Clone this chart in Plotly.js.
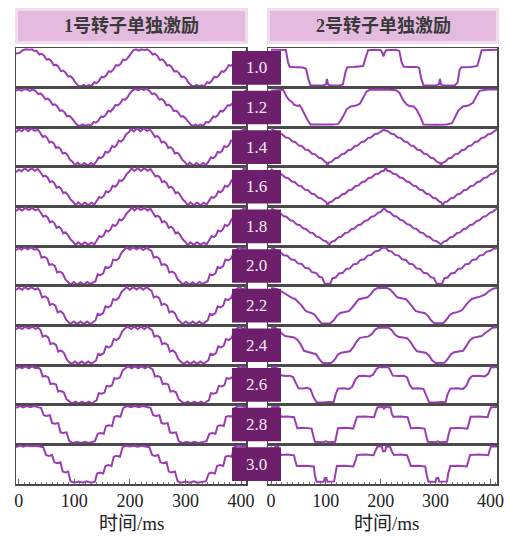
<!DOCTYPE html>
<html>
<head>
<meta charset="utf-8">
<script src="https://cdn.plot.ly/plotly-3.0.1.min.js"></script>
<style>
  html, body { margin: 0; padding: 0; background: #ffffff; }
  #chart { width: 509px; height: 536px; }
</style>
</head>
<body>
<div id="chart"></div>
<script>
// Speed ratios (one row each) and column headings
const ratioLabels = ['1.0', '1.2', '1.4', '1.6', '1.8', '2.0', '2.2', '2.4', '2.6', '2.8', '3.0'];
const panelTitles = ['1号转子单独激励', '2号转子单独激励'];
const xTickVals = [0, 100, 200, 300, 400];
const xAxisTitle = '时间/ms';

// Rotor 1 excitation waveforms: [time ms, normalised amplitude]
const r1_10 = [[-5,0.76],[2,0.82],[7,0.95],[13,1.0],[19,0.97],[24,1.0],[28,0.9],[32,0.93],[37,0.72],[41,0.76],[45,0.68],[50,0.44],[54,0.48],[58,0.38],[63,0.14],[67,0.17],[71,0.07],[76,-0.18],[80,-0.15],[84,-0.25],[89,-0.48],[93,-0.45],[97,-0.56],[102,-0.8],[107,-0.96],[112,-1.0],[117,-0.92],[121,-1.0],[126,-0.93],[131,-0.98],[136,-0.78],[140,-0.82],[144,-0.72],[149,-0.48],[153,-0.52],[157,-0.42],[162,-0.18],[166,-0.22],[170,-0.1],[175,0.14],[179,0.11],[183,0.2],[188,0.44],[192,0.41],[196,0.52],[201,0.76],[206,0.94],[211,1.0],[216,0.93],[221,1.0],[226,0.95],[231,1.0],[236,0.9],[241,0.72],[245,0.76],[249,0.66],[254,0.42],[258,0.46],[262,0.36],[267,0.12],[271,0.15],[275,0.05],[280,-0.2],[284,-0.17],[288,-0.27],[293,-0.5],[297,-0.47],[301,-0.58],[306,-0.82],[311,-0.96],[315,-1.0],[320,-0.92],[324,-1.0],[329,-0.94],[334,-0.99],[339,-0.78],[343,-0.82],[347,-0.72],[352,-0.48],[356,-0.52],[360,-0.42],[365,-0.18],[369,-0.22],[373,-0.1],[378,0.14],[382,0.11],[386,0.2],[391,0.44],[395,0.41],[399,0.52],[404,0.76],[410,0.92]];
const r1_12 = [[-5,0.9],[0,0.98],[5,0.9],[10,1.0],[15,0.97],[20,0.9],[25,0.97],[30,0.9],[35,0.72],[39,0.76],[43,0.66],[48,0.44],[52,0.48],[56,0.38],[61,0.14],[65,0.17],[69,0.07],[74,-0.18],[78,-0.15],[82,-0.25],[87,-0.48],[91,-0.45],[95,-0.56],[100,-0.78],[105,-0.94],[110,-1.0],[115,-0.92],[120,-1.0],[125,-0.93],[130,-0.98],[135,-0.78],[139,-0.82],[143,-0.72],[148,-0.48],[152,-0.52],[156,-0.42],[161,-0.18],[165,-0.22],[169,-0.1],[174,0.14],[178,0.11],[182,0.2],[187,0.44],[191,0.41],[195,0.52],[200,0.76],[205,0.92],[210,1.0],[215,0.92],[220,1.0],[225,0.94],[230,1.0],[235,0.9],[240,0.72],[244,0.76],[248,0.66],[253,0.42],[257,0.46],[261,0.36],[266,0.12],[270,0.15],[274,0.05],[279,-0.2],[283,-0.17],[287,-0.27],[292,-0.5],[296,-0.47],[300,-0.58],[305,-0.8],[310,-0.95],[314,-1.0],[318,-0.92],[322,-1.0],[327,-0.93],[332,-0.98],[337,-0.78],[341,-0.82],[345,-0.72],[350,-0.48],[354,-0.52],[358,-0.42],[363,-0.18],[367,-0.22],[371,-0.1],[376,0.12],[380,0.1],[384,0.2],[389,0.44],[393,0.41],[397,0.52],[402,0.76],[409,0.92]];
const r1_14 = [[-5,0.8],[0,0.95],[5,0.85],[11,1.0],[17,0.86],[23,1.0],[29,0.88],[34,0.95],[38,0.8],[43,0.55],[47,0.6],[51,0.5],[55,0.25],[59,0.3],[63,0.2],[67,-0.05],[71,0.0],[75,-0.1],[79,-0.35],[83,-0.3],[87,-0.4],[92,-0.68],[97,-0.8],[101,-0.98],[106,-0.84],[112,-1.0],[118,-0.86],[124,-1.0],[130,-0.86],[135,-0.96],[139,-0.8],[144,-0.55],[148,-0.6],[152,-0.5],[156,-0.25],[160,-0.3],[164,-0.2],[168,0.05],[172,0.0],[176,0.1],[180,0.35],[184,0.3],[188,0.4],[193,0.68],[198,0.8],[202,0.98],[207,0.85],[213,1.0],[219,0.86],[225,1.0],[231,0.86],[236,0.95],[240,0.8],[245,0.55],[249,0.6],[253,0.5],[257,0.25],[261,0.3],[265,0.2],[269,-0.05],[273,0.0],[277,-0.1],[281,-0.35],[285,-0.3],[289,-0.4],[294,-0.68],[299,-0.8],[303,-0.98],[308,-0.84],[314,-1.0],[320,-0.86],[326,-1.0],[332,-0.86],[337,-0.96],[341,-0.8],[346,-0.55],[350,-0.6],[354,-0.5],[358,-0.25],[362,-0.3],[366,-0.2],[370,0.05],[374,0.0],[378,0.1],[382,0.35],[386,0.3],[390,0.4],[395,0.68],[400,0.8],[405,0.98],[410,0.86]];
const r1_16 = [[-5,0.78],[0,0.92],[5,0.84],[11,1.0],[17,0.85],[23,1.0],[29,0.86],[34,0.96],[39,0.78],[44,0.55],[48,0.6],[52,0.5],[56,0.25],[60,0.3],[64,0.2],[68,-0.05],[72,0.0],[76,-0.1],[80,-0.35],[84,-0.3],[88,-0.42],[93,-0.68],[98,-0.82],[102,-1.0],[107,-0.84],[113,-1.0],[119,-0.85],[125,-1.0],[131,-0.86],[136,-0.96],[140,-0.78],[145,-0.55],[149,-0.6],[153,-0.5],[157,-0.25],[161,-0.3],[165,-0.2],[169,0.05],[173,0.0],[177,0.1],[181,0.35],[185,0.3],[189,0.42],[194,0.68],[199,0.82],[203,1.0],[208,0.85],[214,1.0],[220,0.85],[226,1.0],[232,0.86],[237,0.96],[241,0.78],[246,0.55],[250,0.6],[254,0.5],[258,0.25],[262,0.3],[266,0.2],[270,-0.05],[274,0.0],[278,-0.1],[282,-0.35],[286,-0.3],[290,-0.42],[295,-0.68],[300,-0.82],[304,-1.0],[309,-0.84],[315,-1.0],[321,-0.85],[327,-1.0],[333,-0.86],[338,-0.96],[342,-0.78],[347,-0.55],[351,-0.6],[355,-0.5],[359,-0.25],[363,-0.3],[367,-0.2],[371,0.05],[375,0.0],[379,0.1],[383,0.35],[387,0.3],[391,0.42],[396,0.68],[401,0.82],[406,1.0],[410,0.86]];
const r1_18 = [[-5,0.82],[0,0.96],[6,0.86],[12,1.0],[18,0.88],[24,1.0],[30,0.86],[35,0.94],[39,0.76],[44,0.52],[48,0.58],[52,0.48],[56,0.22],[60,0.28],[64,0.18],[68,-0.08],[72,-0.02],[76,-0.12],[80,-0.38],[84,-0.32],[88,-0.44],[93,-0.7],[98,-0.84],[102,-1.0],[107,-0.86],[113,-1.0],[119,-0.86],[125,-1.0],[131,-0.88],[136,-0.97],[140,-0.78],[145,-0.52],[149,-0.58],[153,-0.48],[157,-0.22],[161,-0.28],[165,-0.18],[169,0.08],[173,0.02],[177,0.12],[181,0.38],[185,0.32],[189,0.44],[194,0.7],[199,0.84],[203,1.0],[208,0.86],[214,1.0],[220,0.88],[226,1.0],[232,0.86],[237,0.96],[241,0.76],[246,0.52],[250,0.58],[254,0.48],[258,0.22],[262,0.28],[266,0.18],[270,-0.08],[274,-0.02],[278,-0.12],[282,-0.38],[286,-0.32],[290,-0.44],[295,-0.7],[300,-0.84],[304,-1.0],[309,-0.86],[315,-1.0],[321,-0.86],[327,-1.0],[333,-0.88],[338,-0.97],[342,-0.78],[347,-0.52],[351,-0.58],[355,-0.48],[359,-0.22],[363,-0.28],[367,-0.18],[371,0.08],[375,0.02],[379,0.12],[383,0.38],[387,0.32],[391,0.44],[396,0.7],[401,0.84],[406,1.0],[410,0.88]];
const r1_20 = [[-5,0.85],[0,0.97],[5,0.88],[10,1.0],[16,0.9],[22,1.0],[28,0.88],[33,0.92],[37,0.8],[41,0.45],[46,0.5],[51,0.4],[55,0.05],[60,0.1],[65,0.0],[69,-0.35],[74,-0.3],[79,-0.4],[84,-0.72],[89,-0.85],[93,-1.0],[99,-0.86],[105,-1.0],[111,-0.88],[117,-1.0],[123,-0.86],[129,-0.98],[134,-0.88],[138,-0.82],[142,-0.45],[147,-0.5],[152,-0.4],[156,-0.05],[161,-0.1],[166,0.0],[170,0.35],[175,0.3],[180,0.4],[185,0.72],[190,0.88],[194,1.0],[200,0.88],[206,1.0],[212,0.9],[218,1.0],[224,0.86],[230,0.98],[235,0.88],[239,0.8],[243,0.45],[248,0.5],[253,0.4],[257,0.05],[262,0.1],[267,0.0],[271,-0.35],[276,-0.3],[281,-0.4],[286,-0.72],[291,-0.86],[295,-1.0],[301,-0.86],[307,-1.0],[313,-0.88],[319,-1.0],[325,-0.86],[331,-0.98],[336,-0.88],[340,-0.82],[344,-0.45],[349,-0.5],[354,-0.4],[358,-0.05],[363,-0.1],[368,0.0],[372,0.35],[377,0.3],[382,0.4],[387,0.72],[392,0.88],[397,1.0],[403,0.9],[410,1.0]];
const r1_22 = [[-5,0.84],[0,0.96],[6,0.86],[11,1.0],[17,0.88],[23,1.0],[29,0.87],[34,0.94],[38,0.8],[42,0.44],[47,0.5],[52,0.4],[56,0.04],[61,0.1],[66,0.0],[70,-0.36],[75,-0.3],[80,-0.42],[85,-0.74],[89,-0.88],[93,-1.0],[99,-0.86],[105,-1.0],[111,-0.86],[117,-1.0],[123,-0.86],[129,-1.0],[134,-0.88],[138,-0.8],[142,-0.44],[147,-0.5],[152,-0.4],[156,-0.04],[161,-0.1],[166,0.0],[170,0.36],[175,0.3],[180,0.42],[185,0.74],[190,0.88],[194,1.0],[200,0.86],[206,1.0],[212,0.87],[218,1.0],[224,0.86],[230,1.0],[235,0.88],[239,0.8],[243,0.44],[248,0.5],[253,0.4],[257,0.04],[262,0.1],[267,0.0],[271,-0.36],[276,-0.3],[281,-0.42],[286,-0.74],[291,-0.88],[295,-1.0],[301,-0.86],[307,-1.0],[313,-0.86],[319,-1.0],[325,-0.86],[331,-1.0],[336,-0.88],[340,-0.8],[344,-0.44],[349,-0.5],[354,-0.4],[358,-0.04],[363,-0.1],[368,0.0],[372,0.36],[377,0.3],[382,0.42],[387,0.74],[392,0.88],[397,1.0],[403,0.88],[410,1.0]];
const r1_24 = [[-5,0.86],[0,0.98],[6,0.88],[12,1.0],[18,0.9],[24,1.0],[30,0.88],[35,0.95],[39,0.82],[43,0.46],[48,0.52],[53,0.42],[57,0.06],[62,0.12],[67,0.02],[71,-0.34],[76,-0.28],[81,-0.4],[86,-0.74],[90,-0.9],[95,-1.0],[101,-0.88],[107,-1.0],[113,-0.88],[119,-1.0],[125,-0.88],[131,-1.0],[135,-0.9],[139,-0.82],[143,-0.46],[148,-0.52],[153,-0.42],[157,-0.06],[162,-0.12],[167,-0.02],[171,0.34],[176,0.28],[181,0.4],[186,0.74],[191,0.9],[196,1.0],[202,0.88],[208,1.0],[214,0.88],[220,1.0],[226,0.88],[232,1.0],[236,0.9],[240,0.82],[244,0.46],[249,0.52],[254,0.42],[258,0.06],[263,0.12],[268,0.02],[272,-0.34],[277,-0.28],[282,-0.4],[287,-0.74],[292,-0.9],[297,-1.0],[303,-0.88],[309,-1.0],[315,-0.88],[321,-1.0],[327,-0.88],[333,-1.0],[337,-0.9],[341,-0.82],[345,-0.46],[350,-0.52],[355,-0.42],[359,-0.06],[364,-0.12],[369,-0.02],[373,0.34],[378,0.28],[383,0.4],[388,0.74],[393,0.9],[398,1.0],[404,0.88],[410,1.0]];
const r1_26 = [[-5,0.86],[0,0.97],[6,0.9],[12,1.0],[18,0.9],[24,1.0],[30,0.9],[35,0.93],[39,0.84],[43,0.45],[48,0.48],[53,0.42],[57,0.05],[62,0.08],[67,0.02],[71,-0.36],[76,-0.33],[81,-0.4],[86,-0.78],[91,-0.9],[96,-1.0],[102,-0.9],[108,-1.0],[114,-0.9],[120,-1.0],[126,-0.9],[132,-1.0],[136,-0.9],[140,-0.84],[144,-0.45],[149,-0.48],[154,-0.42],[158,-0.05],[163,-0.08],[168,-0.02],[172,0.36],[177,0.33],[182,0.4],[187,0.78],[192,0.9],[197,1.0],[203,0.9],[209,1.0],[215,0.9],[221,1.0],[227,0.9],[233,1.0],[237,0.9],[241,0.84],[245,0.45],[250,0.48],[255,0.42],[259,0.05],[264,0.08],[269,0.02],[273,-0.36],[278,-0.33],[283,-0.4],[288,-0.78],[293,-0.9],[298,-1.0],[304,-0.9],[310,-1.0],[316,-0.9],[322,-1.0],[328,-0.9],[334,-1.0],[338,-0.9],[342,-0.84],[346,-0.45],[351,-0.48],[356,-0.42],[360,-0.05],[365,-0.08],[370,-0.02],[374,0.36],[379,0.33],[384,0.4],[389,0.78],[394,0.9],[399,1.0],[405,0.9],[410,1.0]];
const r1_28 = [[-5,0.9],[2,1.0],[8,0.92],[14,1.0],[21,0.94],[28,1.0],[34,0.94],[40,0.9],[45,0.5],[50,0.46],[56,0.5],[60,0.08],[65,0.04],[71,0.08],[75,-0.42],[80,-0.46],[86,-0.42],[91,-0.9],[98,-1.0],[105,-0.93],[112,-1.0],[119,-0.93],[126,-1.0],[132,-0.95],[137,-0.9],[142,-0.5],[147,-0.46],[153,-0.5],[157,-0.08],[162,-0.04],[168,-0.08],[172,0.42],[177,0.46],[183,0.42],[188,0.9],[195,1.0],[202,0.94],[209,1.0],[216,0.93],[223,1.0],[230,0.95],[237,0.9],[242,0.5],[247,0.46],[253,0.5],[257,0.08],[262,0.04],[268,0.08],[272,-0.42],[277,-0.46],[283,-0.42],[288,-0.9],[295,-1.0],[302,-0.93],[309,-1.0],[316,-0.93],[323,-1.0],[330,-0.95],[338,-0.9],[343,-0.5],[348,-0.46],[354,-0.5],[358,-0.08],[363,-0.04],[369,-0.08],[373,0.42],[378,0.46],[384,0.42],[389,0.9],[396,1.0],[410,0.94]];
const r1_30 = [[-5,0.92],[2,1.0],[8,0.94],[14,1.0],[22,0.97],[30,1.0],[38,0.95],[44,0.92],[49,0.5],[54,0.45],[60,0.5],[64,0.1],[69,0.05],[75,0.1],[79,-0.4],[84,-0.45],[89,-0.4],[93,-0.92],[100,-1.0],[108,-0.94],[116,-1.0],[122,-0.92],[130,-1.0],[137,-0.95],[141,-0.5],[146,-0.45],[152,-0.5],[156,-0.1],[161,-0.05],[167,-0.1],[171,0.4],[176,0.45],[182,0.4],[187,0.92],[193,1.0],[200,0.95],[207,1.0],[214,0.94],[221,1.0],[228,0.96],[235,0.92],[240,0.5],[245,0.45],[251,0.5],[255,0.1],[260,0.05],[266,0.1],[270,-0.4],[275,-0.45],[281,-0.4],[286,-0.92],[292,-1.0],[300,-0.94],[308,-1.0],[315,-0.92],[322,-1.0],[330,-0.95],[337,-0.92],[342,-0.5],[347,-0.45],[353,-0.5],[357,-0.1],[362,-0.05],[368,-0.1],[372,0.4],[377,0.45],[383,0.4],[388,0.92],[395,1.0],[410,0.95]];

// Rotor 2 excitation waveforms: [time ms, normalised amplitude]
const r2_10 = [[0,0.97],[27,0.96],[31,0.3],[34,0.06],[40,0.04],[50,0.05],[58,0.02],[64,-0.05],[68,-0.6],[72,-0.95],[80,-0.96],[95,-0.95],[100,-0.9],[102,-0.6],[104,-0.9],[108,-0.96],[125,-0.95],[131,-0.9],[136,-0.2],[139,0.03],[150,0.05],[160,0.06],[168,0.1],[172,0.5],[177,0.95],[190,0.97],[200,0.95],[203,0.8],[205,0.62],[207,0.8],[210,0.95],[228,0.97],[234,0.9],[238,0.3],[242,0.06],[255,0.04],[265,0.05],[270,0.0],[274,-0.6],[278,-0.95],[300,-0.96],[306,-0.9],[308,-0.6],[310,-0.9],[314,-0.96],[335,-0.95],[340,-0.8],[344,-0.1],[347,0.03],[365,0.05],[376,0.1],[380,0.5],[384,0.95],[412,0.97]];
const r2_12 = [[0,0.9],[22,0.95],[28,0.6],[33,0.4],[38,0.3],[42,0.15],[48,0.08],[52,0.12],[55,0.0],[60,-0.3],[66,-0.65],[72,-0.92],[90,-0.93],[110,-0.92],[122,-0.9],[126,-0.75],[132,-0.45],[138,-0.1],[145,0.05],[155,0.1],[162,0.2],[168,0.5],[174,0.85],[180,0.95],[195,0.97],[215,0.95],[228,0.93],[234,0.8],[240,0.45],[246,0.2],[252,0.08],[260,0.05],[265,-0.1],[272,-0.5],[278,-0.92],[300,-0.93],[320,-0.92],[330,-0.85],[336,-0.5],[342,-0.15],[350,0.05],[360,0.1],[368,0.25],[374,0.6],[380,0.9],[395,0.97],[412,0.97]];
const r2_14 = [[0,0.96],[2,1.0],[4,0.9],[9,0.86],[15,0.72],[20,0.7],[27,0.52],[32,0.5],[39,0.3],[44,0.28],[51,0.08],[56,0.06],[63,-0.14],[68,-0.16],[75,-0.36],[80,-0.38],[87,-0.58],[92,-0.6],[99,-0.8],[101,-0.84],[103,-1.02],[105,-0.84],[110,-0.8],[117,-0.6],[122,-0.58],[129,-0.38],[134,-0.36],[141,-0.16],[146,-0.14],[153,0.06],[158,0.08],[165,0.28],[170,0.3],[177,0.5],[182,0.52],[189,0.7],[194,0.72],[201,0.86],[204,0.9],[206,1.03],[208,0.9],[213,0.86],[219,0.72],[224,0.7],[231,0.52],[236,0.5],[243,0.3],[248,0.28],[255,0.08],[260,0.06],[267,-0.14],[272,-0.16],[279,-0.36],[284,-0.38],[291,-0.58],[296,-0.6],[303,-0.8],[308,-0.86],[310,-1.02],[312,-0.86],[317,-0.8],[324,-0.6],[329,-0.58],[336,-0.38],[341,-0.36],[348,-0.16],[353,-0.14],[360,0.06],[365,0.08],[372,0.28],[377,0.3],[384,0.5],[389,0.52],[396,0.7],[401,0.72],[408,0.88],[412,0.95]];
const r2_16 = [[0,0.97],[3,0.88],[8,0.85],[14,0.7],[19,0.68],[26,0.5],[31,0.47],[38,0.28],[43,0.26],[50,0.06],[55,0.04],[62,-0.16],[67,-0.18],[74,-0.38],[79,-0.4],[86,-0.6],[91,-0.62],[98,-0.8],[101,-0.84],[103,-1.02],[106,-0.84],[111,-0.8],[118,-0.62],[123,-0.6],[130,-0.4],[135,-0.38],[142,-0.18],[147,-0.16],[154,0.04],[159,0.06],[166,0.26],[171,0.28],[178,0.47],[183,0.5],[190,0.68],[195,0.7],[202,0.84],[206,0.86],[209,1.03],[212,0.86],[217,0.84],[223,0.7],[228,0.68],[235,0.5],[240,0.47],[247,0.28],[252,0.26],[259,0.06],[264,0.04],[271,-0.16],[276,-0.18],[283,-0.38],[288,-0.4],[295,-0.6],[300,-0.62],[307,-0.8],[310,-0.84],[313,-1.02],[316,-0.84],[321,-0.8],[328,-0.62],[333,-0.6],[340,-0.4],[345,-0.38],[352,-0.18],[357,-0.16],[364,0.04],[369,0.06],[376,0.26],[381,0.28],[388,0.47],[393,0.5],[400,0.68],[405,0.7],[412,0.9]];
const r2_18 = [[0,0.95],[5,0.9],[11,0.76],[16,0.73],[23,0.55],[28,0.52],[35,0.33],[40,0.3],[47,0.1],[52,0.08],[59,-0.12],[64,-0.14],[71,-0.34],[76,-0.36],[83,-0.56],[88,-0.58],[95,-0.76],[100,-0.8],[106,-0.98],[111,-0.82],[116,-0.78],[123,-0.58],[128,-0.56],[135,-0.36],[140,-0.34],[147,-0.14],[152,-0.12],[159,0.08],[164,0.1],[171,0.3],[176,0.33],[183,0.52],[188,0.55],[195,0.73],[200,0.78],[206,0.97],[212,0.8],[217,0.76],[224,0.56],[229,0.53],[236,0.34],[241,0.31],[248,0.11],[253,0.09],[260,-0.11],[265,-0.13],[272,-0.33],[277,-0.35],[284,-0.55],[289,-0.57],[296,-0.76],[302,-0.8],[310,-0.98],[315,-0.82],[320,-0.78],[327,-0.58],[332,-0.56],[339,-0.36],[344,-0.34],[351,-0.14],[356,-0.12],[363,0.08],[368,0.1],[375,0.3],[380,0.33],[387,0.52],[392,0.55],[399,0.73],[404,0.78],[412,0.96]];
const r2_20 = [[0,0.95],[6,0.92],[11,0.78],[17,0.75],[23,0.58],[30,0.55],[36,0.36],[43,0.33],[49,0.14],[56,0.11],[62,-0.1],[69,-0.13],[75,-0.34],[82,-0.37],[88,-0.58],[93,-0.62],[98,-0.95],[108,-0.96],[112,-0.66],[118,-0.62],[124,-0.4],[131,-0.37],[137,-0.16],[144,-0.13],[150,0.09],[157,0.12],[163,0.33],[170,0.36],[176,0.56],[183,0.6],[189,0.78],[196,0.82],[203,0.98],[210,0.98],[214,0.82],[220,0.78],[226,0.6],[233,0.56],[239,0.36],[246,0.33],[252,0.12],[259,0.09],[265,-0.13],[272,-0.16],[278,-0.37],[285,-0.4],[291,-0.6],[297,-0.65],[302,-0.95],[312,-0.96],[316,-0.66],[322,-0.62],[328,-0.4],[335,-0.37],[341,-0.16],[348,-0.13],[354,0.09],[361,0.12],[367,0.33],[374,0.36],[380,0.56],[387,0.6],[393,0.78],[400,0.82],[407,0.95],[412,0.96]];
const r2_22 = [[0,0.95],[10,0.9],[20,0.75],[30,0.55],[38,0.42],[44,0.36],[50,0.2],[56,0.0],[62,-0.25],[68,-0.35],[74,-0.4],[80,-0.5],[86,-0.75],[92,-0.95],[100,-0.97],[108,-0.95],[114,-0.8],[120,-0.55],[126,-0.4],[134,-0.36],[142,-0.3],[148,-0.1],[154,0.15],[160,0.35],[168,0.4],[176,0.45],[182,0.62],[188,0.85],[194,0.95],[204,0.97],[212,0.95],[218,0.85],[224,0.62],[230,0.45],[238,0.4],[246,0.35],[252,0.15],[258,-0.1],[264,-0.3],[272,-0.36],[280,-0.4],[286,-0.55],[292,-0.8],[298,-0.95],[306,-0.97],[314,-0.95],[320,-0.75],[326,-0.5],[332,-0.4],[340,-0.35],[348,-0.25],[354,0.0],[360,0.2],[366,0.36],[374,0.42],[382,0.5],[390,0.6],[398,0.8],[406,0.93],[412,0.95]];
const r2_24 = [[0,0.95],[8,0.93],[14,0.8],[20,0.62],[26,0.5],[34,0.46],[42,0.42],[48,0.3],[54,0.05],[60,-0.3],[68,-0.36],[76,-0.4],[82,-0.48],[88,-0.75],[94,-0.95],[102,-0.97],[110,-0.95],[116,-0.78],[122,-0.5],[128,-0.4],[136,-0.37],[144,-0.32],[150,-0.1],[156,0.2],[162,0.4],[170,0.44],[178,0.48],[184,0.62],[190,0.85],[196,0.95],[206,0.97],[214,0.95],[220,0.82],[226,0.58],[232,0.46],[240,0.43],[248,0.38],[254,0.2],[260,-0.1],[266,-0.32],[274,-0.36],[282,-0.4],[288,-0.55],[294,-0.82],[300,-0.96],[308,-0.97],[316,-0.95],[322,-0.75],[328,-0.48],[334,-0.38],[342,-0.35],[350,-0.3],[356,-0.05],[362,0.25],[368,0.4],[376,0.44],[384,0.5],[390,0.65],[398,0.85],[404,0.95],[412,0.97]];
const r2_26 = [[0,0.95],[10,0.95],[14,0.7],[18,0.52],[26,0.48],[34,0.5],[40,0.42],[46,0.0],[50,-0.18],[58,-0.2],[66,-0.16],[72,-0.24],[78,-0.7],[83,-0.93],[95,-0.95],[105,-0.92],[114,-0.94],[118,-0.5],[122,-0.2],[132,-0.18],[142,-0.22],[148,-0.1],[154,0.3],[160,0.48],[170,0.5],[180,0.46],[186,0.55],[192,0.85],[197,0.96],[206,0.95],[214,0.97],[218,0.75],[222,0.5],[232,0.48],[242,0.5],[248,0.4],[253,0.0],[258,-0.2],[268,-0.18],[278,-0.22],[283,-0.6],[288,-0.93],[300,-0.95],[310,-0.92],[318,-0.94],[322,-0.5],[327,-0.2],[338,-0.18],[350,-0.22],[356,-0.05],[362,0.35],[367,0.48],[378,0.5],[390,0.46],[396,0.6],[401,0.95],[412,0.96]];
const r2_28 = [[0,0.93],[14,0.94],[17,0.5],[19,0.42],[30,0.44],[42,0.4],[45,0.1],[48,-0.2],[60,-0.18],[74,-0.22],[77,-0.6],[80,-0.93],[95,-0.95],[100,-0.9],[105,-0.95],[117,-0.93],[120,-0.5],[122,-0.2],[136,-0.18],[150,-0.22],[153,0.1],[157,0.42],[172,0.44],[188,0.4],[191,0.7],[194,0.93],[204,0.95],[206,0.86],[208,0.95],[218,0.93],[220,0.6],[223,0.42],[236,0.44],[249,0.4],[252,0.1],[255,-0.2],[267,-0.18],[280,-0.22],[283,-0.6],[286,-0.93],[300,-0.95],[304,-0.9],[308,-0.95],[321,-0.93],[324,-0.5],[327,-0.2],[342,-0.18],[358,-0.22],[361,0.1],[364,0.42],[380,0.44],[395,0.4],[398,0.7],[401,0.93],[412,0.95]];
const r2_30 = [[0,0.95],[4,0.72],[8,0.95],[13,0.94],[16,0.6],[19,0.5],[30,0.52],[42,0.48],[44,0.2],[47,-0.1],[62,-0.08],[78,-0.12],[80,-0.6],[83,-0.95],[96,-0.95],[98,-0.75],[101,-0.75],[103,-0.95],[115,-0.93],[117,-0.5],[120,-0.1],[135,-0.08],[150,-0.12],[154,0.2],[157,0.5],[172,0.52],[187,0.48],[190,0.7],[194,0.95],[202,0.95],[204,0.7],[208,0.7],[210,0.95],[217,0.94],[220,0.7],[224,0.5],[236,0.52],[248,0.48],[251,0.2],[255,-0.1],[268,-0.08],[281,-0.12],[284,-0.6],[287,-0.95],[300,-0.95],[302,-0.75],[305,-0.75],[307,-0.95],[321,-0.93],[323,-0.5],[327,-0.1],[342,-0.08],[357,-0.12],[360,0.2],[363,0.5],[380,0.52],[396,0.48],[398,0.7],[401,0.95],[412,0.95]];

const rotor1 = [r1_10, r1_12, r1_14, r1_16, r1_18, r1_20, r1_22, r1_24, r1_26, r1_28, r1_30];
const rotor2 = [r2_10, r2_12, r2_14, r2_16, r2_18, r2_20, r2_22, r2_24, r2_26, r2_28, r2_30];

// ---- page geometry (pixels) ----
const W = 509, H = 536;
const gridTop = 48, gridBottom = 484;
const nRows = ratioLabels.length;
const rowH = (gridBottom - gridTop) / nRows;
const colPx = [[16, 246], [268, 497]];
const xRanges = [[-5, 409], [-5.5, 412]];
const waveColor = '#9a3db3';
const frameColor = '#4a4a4a';
const numFont = 'Liberation Serif';
const cjkFont = 'Liberation Serif, Noto Sans CJK SC';

const px = x => x / W;
const py = y => 1 - y / H;

const data = [];
const layout = {
  width: W, height: H,
  margin: {l: 0, r: 0, t: 0, b: 0},
  paper_bgcolor: '#ffffff',
  plot_bgcolor: '#ffffff',
  showlegend: false,
  shapes: [],
  annotations: []
};

const columns = [rotor1, rotor2];
for (let r = 0; r < nRows; r++) {
  const top = gridTop + r * rowH;
  const bottom = top + rowH;
  const isBottom = r === nRows - 1;
  for (let c = 0; c < 2; c++) {
    const idx = r * 2 + c + 1;
    const sfx = idx === 1 ? '' : String(idx);
    const wave = columns[c][r];
    data.push({
      type: 'scatter', mode: 'lines',
      x: wave.map(p => p[0]), y: wave.map(p => p[1]),
      xaxis: 'x' + sfx, yaxis: 'y' + sfx,
      line: {color: waveColor, width: 2},
      hoverinfo: 'skip'
    });
    layout['xaxis' + sfx] = {
      domain: [px(colPx[c][0]), px(colPx[c][1])],
      range: xRanges[c],
      anchor: 'y' + sfx,
      showline: true, mirror: true, linecolor: frameColor, linewidth: 1.5,
      showgrid: false, zeroline: false,
      showticklabels: isBottom,
      tickmode: 'array', tickvals: xTickVals,
      ticks: isBottom ? 'inside' : '', ticklen: 5, tickwidth: 1, tickcolor: '#666',
      minor: isBottom ? {dtick: 10, tick0: 0, ticks: 'inside', ticklen: 2.5, tickwidth: 1, tickcolor: '#777'} : {ticks: ''},
      tickfont: {family: numFont, size: 18, color: '#222'},
      fixedrange: true
    };
    layout['yaxis' + sfx] = {
      domain: [py(bottom), py(top)],
      range: [-1.07, 1.07],
      anchor: 'x' + sfx,
      showline: true, mirror: true, linecolor: frameColor, linewidth: 1.5,
      showgrid: false, zeroline: false,
      showticklabels: false, ticks: '',
      fixedrange: true
    };
  }
  // speed ratio tag between the two columns
  layout.shapes.push({
    type: 'rect', xref: 'paper', yref: 'paper', layer: 'above',
    x0: px(232), x1: px(281), y0: py(bottom - 3), y1: py(top + 3),
    fillcolor: '#6d1f6c', line: {width: 0}
  });
  layout.annotations.push({
    xref: 'paper', yref: 'paper', x: px(256.5), y: py(top + rowH / 2),
    text: ratioLabels[r], showarrow: false,
    xanchor: 'center', yanchor: 'middle',
    font: {family: numFont, size: 17, color: '#f2ecf2'}
  });
}

// column headings
const headPx = [[15, 248], [267, 499]];
const headCx = [131, 383];
headPx.forEach((h, c) => {
  layout.shapes.push({
    type: 'rect', xref: 'paper', yref: 'paper', layer: 'below',
    x0: px(h[0]), x1: px(h[1]), y0: py(44), y1: py(8),
    fillcolor: '#f1dbee', line: {width: 0}
  });
  layout.shapes.push({
    type: 'rect', xref: 'paper', yref: 'paper', layer: 'below',
    x0: px(h[0] + 3), x1: px(h[1] - 3), y0: py(41), y1: py(11),
    fillcolor: '#e4bbdf', line: {width: 0}
  });
  layout.annotations.push({
    xref: 'paper', yref: 'paper', x: px(headCx[c]), y: py(26),
    text: panelTitles[c], showarrow: false,
    xanchor: 'center', yanchor: 'middle',
    font: {family: cjkFont, size: 18, color: '#3a3a3a', weight: 'bold'}
  });
});

// time axis titles under each column
[131, 386].forEach(cx => {
  layout.annotations.push({
    xref: 'paper', yref: 'paper', x: px(cx), y: py(523),
    text: xAxisTitle, showarrow: false,
    xanchor: 'center', yanchor: 'middle',
    font: {family: cjkFont, size: 19, color: '#222'}
  });
});

Plotly.newPlot('chart', data, layout, {staticPlot: true, displayModeBar: false});
</script>
</body>
</html>
